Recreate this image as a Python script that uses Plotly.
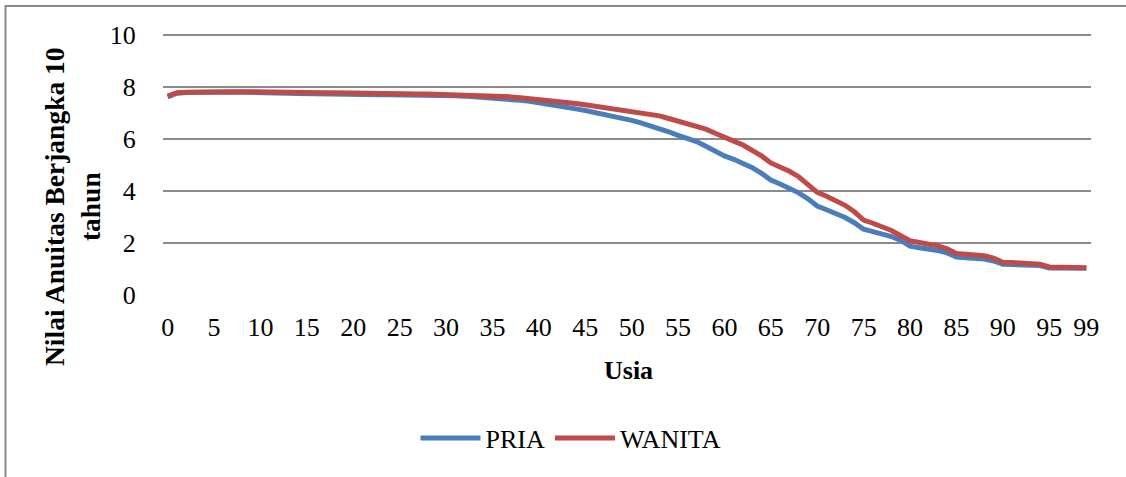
import plotly.graph_objects as go

usia = list(range(100))

pria = [7.62, 7.76, 7.79, 7.80, 7.81, 7.81, 7.81, 7.81, 7.80, 7.80,
        7.79, 7.78, 7.77, 7.76, 7.75, 7.74, 7.73, 7.72, 7.71, 7.71,
        7.70, 7.70, 7.70, 7.70, 7.70, 7.70, 7.70, 7.69, 7.69, 7.68,
        7.67, 7.66, 7.65, 7.63, 7.61, 7.59, 7.56, 7.53, 7.49, 7.45,
        7.40, 7.35, 7.29, 7.23, 7.16, 7.10, 7.03, 6.96, 6.89, 6.81,
        6.72, 6.62, 6.52, 6.41, 6.28, 6.14, 6.02, 5.90, 5.72, 5.52,
        5.35, 5.22, 5.08, 4.90, 4.68, 4.42, 4.27, 4.12, 3.93, 3.70,
        3.42, 3.28, 3.14, 2.98, 2.78, 2.53, 2.44, 2.36, 2.25, 2.10,
        1.88, 1.82, 1.77, 1.71, 1.62, 1.46, 1.43, 1.41, 1.38, 1.31,
        1.18, 1.17, 1.17, 1.16, 1.13, 1.04, 1.04, 1.03, 1.03, 1.03]

wanita = [7.65, 7.78, 7.80, 7.81, 7.82, 7.82, 7.82, 7.82, 7.82, 7.82,
          7.81, 7.81, 7.80, 7.80, 7.79, 7.79, 7.78, 7.78, 7.78, 7.77,
          7.77, 7.76, 7.76, 7.76, 7.75, 7.75, 7.74, 7.73, 7.73, 7.72,
          7.71, 7.71, 7.70, 7.69, 7.68, 7.66, 7.64, 7.62, 7.59, 7.56,
          7.52, 7.48, 7.45, 7.41, 7.37, 7.32, 7.27, 7.23, 7.18, 7.13,
          7.07, 7.02, 6.96, 6.89, 6.79, 6.69, 6.60, 6.50, 6.38, 6.22,
          6.05, 5.92, 5.77, 5.58, 5.35, 5.08, 4.93, 4.76, 4.55, 4.28,
          3.95, 3.80, 3.65, 3.45, 3.20, 2.88, 2.76, 2.63, 2.48, 2.28,
          2.09, 2.02, 1.96, 1.89, 1.78, 1.60, 1.57, 1.55, 1.51, 1.42,
          1.26, 1.25, 1.23, 1.22, 1.18, 1.08, 1.07, 1.07, 1.06, 1.05]

x_tickvals = [0, 5, 10, 15, 20, 25, 30, 35, 40, 45, 50, 55, 60, 65, 70, 75, 80, 85, 90, 95, 99]
x_ticktext = [str(v) for v in x_tickvals]
y_tickvals = [0, 2, 4, 6, 8, 10]

FONT = "Liberation Serif"

fig = go.Figure()
fig.add_trace(go.Scatter(x=usia, y=pria, mode="lines", name="PRIA",
                         line=dict(color="#4A7EBB", width=5)))
fig.add_trace(go.Scatter(x=usia, y=wanita, mode="lines", name="WANITA",
                         line=dict(color="#BE4B48", width=5)))

# plot area in px: x 163..1091, y 35..295
L, R, T, B = 163, 1091, 34, 295
W, H = R - L, B - T

def px(xp):
    return (xp - L) / W

def py(yp):
    return (B - yp) / H

fig.update_layout(
    width=1126, height=477,
    margin=dict(l=L, r=1126 - R, t=T, b=477 - B),
    paper_bgcolor="white", plot_bgcolor="white",
    font=dict(family=FONT, size=26, color="black"),
    showlegend=True,
    legend=dict(orientation="h", x=px(571), y=py(438), xanchor="center", yanchor="middle",
                font=dict(family=FONT, size=26), itemwidth=60, bgcolor="rgba(0,0,0,0)"),
    xaxis=dict(range=[-0.5, 99.5], tickmode="array", tickvals=x_tickvals, ticktext=x_ticktext,
               showgrid=False, zeroline=False, showline=False,
               ticks="outside", ticklen=9, tickcolor="rgba(0,0,0,0)",
               tickfont=dict(family=FONT, size=26)),
    yaxis=dict(range=[0, 10.04], tickmode="array", tickvals=y_tickvals,
               showgrid=True, gridcolor="#8A8A8A", gridwidth=2, zeroline=False, showline=False,
               ticks="outside", ticklen=21, tickcolor="rgba(0,0,0,0)",
               tickfont=dict(family=FONT, size=26)),
    annotations=[
        dict(text="<b>Nilai Anuitas Berjangka 10<br>tahun</b>", textangle=-90,
             xref="paper", yref="paper", x=px(72), y=py(207), xanchor="center", yanchor="middle",
             showarrow=False, font=dict(family=FONT, size=27.5, color="black")),
        dict(text="<b>Usia</b>", xref="paper", yref="paper", x=px(628), y=py(370),
             xanchor="center", yanchor="middle", showarrow=False,
             font=dict(family=FONT, size=26, color="black")),
    ],
    shapes=[
        dict(type="rect", xref="paper", yref="paper", x0=px(5.5), x1=px(1135), y0=py(490), y1=py(6),
             line=dict(color="#8A8A8A", width=2), fillcolor="rgba(0,0,0,0)", layer="below"),
    ],
)

fig.write_html("out.html", config={"displayModeBar": False},
               post_script="document.body.style.margin='0';document.body.style.padding='0';")
